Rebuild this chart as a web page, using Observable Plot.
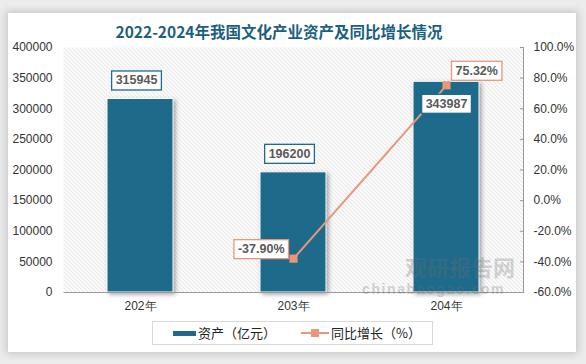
<!DOCTYPE html>
<html><head><meta charset="utf-8">
<script src="https://cdn.jsdelivr.net/npm/d3@7"></script>
<script src="https://cdn.jsdelivr.net/npm/@observablehq/plot@0.6"></script>
<style>
body{margin:0;width:586px;height:364px;background:#ececec;position:relative;overflow:hidden;font-family:"Liberation Sans",Arial,sans-serif}
#card{position:absolute;left:8px;top:13px;width:568px;height:339px;background:#fff;box-shadow:0 0 8px 2px rgba(0,0,0,0.16)}
#title{position:absolute;left:0;top:21px;width:558px;text-align:center;font-weight:bold;font-size:15.5px;font-family:"Noto Sans CJK SC",sans-serif;color:#1d5f80;line-height:20px;white-space:nowrap}
#chart{position:absolute;left:0;top:40px}
#legend{position:absolute;left:152px;top:321px;width:279px;height:22px;border:1px solid #d9d9d9;background:#fff;font-family:"Noto Sans CJK SC",sans-serif;font-size:13px;color:#222}
#legend span{position:absolute;white-space:nowrap}
#wm{position:absolute;left:0;top:0;width:586px;height:364px;pointer-events:none;color:rgba(110,110,110,0.30);font-weight:bold}
#wm span{position:absolute;white-space:nowrap}
</style></head>
<body>
<div id="card"></div>
<div id="title">2022-2024年我国文化产业资产及同比增长情况</div>
<div id="chart"></div>
<div id="legend">
  <span style="left:20px;top:9px;width:23px;height:5px;background:#1d6a8b"></span>
  <span style="left:45px;top:2px;line-height:18px">资产（亿元）</span>
  <span style="left:148px;top:10px;width:28px;height:2px;background:#e9967a"></span>
  <span style="left:158px;top:7px;width:8px;height:8px;background:#e9967a"></span>
  <span style="left:178px;top:2px;line-height:18px">同比增长（%）</span>
</div>
<div id="wm">
  <span style="left:405px;top:255px;font-size:22px;font-family:'Noto Sans CJK SC',sans-serif;line-height:22px">观研报告网</span>
  <span style="left:362px;top:283px;font-size:14px;letter-spacing:1.6px;line-height:12px;font-family:'Liberation Sans',sans-serif">chinabaogao.com</span>
</div>
<script>
const years = ["202年", "203年", "204年"];
const assets = [315945, 196200, 343987];
const growth = [null, -37.90, 75.32];
const leftTicks = [0, 50000, 100000, 150000, 200000, 250000, 300000, 350000, 400000];
const rightTicks = [-60, -40, -20, 0, 20, 40, 60, 80, 100];
const yMax = 400000, pMin = -60, pMax = 100;

const toY = p => (p - pMin) / (pMax - pMin) * yMax;
const fromY = v => v / yMax * (pMax - pMin) + pMin;

const rows = years.map((year, i) => ({year, asset: assets[i], growth: growth[i]}));
const lineRows = rows.filter(d => d.growth != null);

const W = 586, H = 280, mL = 63, mR = 63, mT = 7, mB = 28;
const fw = W - mL - mR, fh = H - mT - mB;
const lineColor = "#e9967a", barColor = "#1d6a8b";

const plot = Plot.plot({
  width: W, height: H,
  marginLeft: mL, marginRight: mR, marginTop: mT, marginBottom: mB,
  style: {fontFamily: '"Liberation Sans", Arial, sans-serif', fontSize: "12px", color: "#333", background: "transparent"},
  x: {domain: years, paddingInner: 0.57, paddingOuter: 0.285},
  y: {domain: [0, yMax]},
  marks: [
    Plot.frame({fill: "url(#hatch)", stroke: "none"}),
    Plot.barY(rows, {x: "year", y: "asset", fill: barColor, stroke: "#fff", strokeWidth: 1, ariaLabel: () => "asset-bar"}),
    Plot.frame({fill: "none", stroke: "#999", strokeDasharray: `0 ${fw} ${fh + fw} ${fh}`}),
    Plot.axisY({ticks: leftTicks, tickSize: 0, tickPadding: 11, tickFormat: d => String(d), label: null}),
    Plot.axisY({anchor: "right", ticks: rightTicks.map(toY), tickSize: 4, dx: -4, fill: "none", stroke: "#999", label: null}),
    Plot.axisY({anchor: "right", ticks: rightTicks.map(toY), tickSize: 0, tickPadding: 10, tickFormat: v => fromY(v).toFixed(1) + "%", label: null}),
    Plot.axisX({tickSize: 0, tickPadding: 9, label: null}),
    Plot.line(lineRows, {x: "year", y: d => toY(d.growth), stroke: lineColor, strokeWidth: 2}),
    Plot.dot(lineRows, {x: "year", y: d => toY(d.growth), symbol: "square", r: 4.6, fill: lineColor, stroke: "none"}),
    Plot.text(rows.filter(d => d.year !== "204年"), {x: "year", y: "asset", text: d => String(d.asset), dx: -4, dy: -18.5, fontWeight: "bold", fontSize: 12.5, fill: "#595959", ariaLabel: () => "asset-label"}),
    Plot.text(rows.filter(d => d.year === "204年"), {x: "year", y: "asset", text: d => String(d.asset), dx: 0, dy: 22, fontWeight: "bold", fontSize: 12.5, fill: "#595959", ariaLabel: () => "asset-label"}),
    Plot.text(lineRows.filter(d => d.growth < 0), {x: "year", y: d => toY(d.growth), text: d => d.growth.toFixed(2) + "%", textAnchor: "end", dx: -9, dy: -9.5, fontWeight: "bold", fontSize: 12.5, fill: "#595959", ariaLabel: () => "growth-label"}),
    Plot.text(lineRows.filter(d => d.growth >= 0), {x: "year", y: d => toY(d.growth), text: d => d.growth.toFixed(2) + "%", textAnchor: "start", dx: 9, dy: -14.5, fontWeight: "bold", fontSize: 12.5, fill: "#595959", ariaLabel: () => "growth-label"})
  ]
});
document.getElementById("chart").appendChild(plot);

const ns = "http://www.w3.org/2000/svg";
const defs = document.createElementNS(ns, "defs");
defs.innerHTML = `<pattern id="hatch" patternUnits="userSpaceOnUse" width="4" height="4">
  <rect width="4" height="4" fill="#fff"/>
  <path d="M-1,-1 L5,5 M-1,3 L1,5 M3,-1 L5,1" stroke="#d2d2d2" stroke-width="0.9"/>
</pattern>`;
plot.insertBefore(defs, plot.firstChild);

plot.querySelectorAll('[aria-label="asset-bar"]').forEach(el => el.style.filter = "drop-shadow(2px 2px 2px rgba(0,0,0,0.35))");

function boxes(label, color) {
  plot.querySelectorAll(`text[aria-label="${label}"]`).forEach(t => {
    const b = t.getBBox();
    const r = document.createElementNS(ns, "rect");
    r.setAttribute("x", b.x - 4);
    r.setAttribute("y", b.y - 2.5);
    r.setAttribute("width", b.width + 8);
    r.setAttribute("height", b.height + 5);
    r.setAttribute("fill", "#fff");
    r.setAttribute("stroke", color);
    r.setAttribute("stroke-width", 1.3);
    if (t.getAttribute("transform")) r.setAttribute("transform", t.getAttribute("transform"));
    t.parentNode.insertBefore(r, t);
  });
}
boxes("asset-label", barColor);
boxes("growth-label", lineColor);
</script>
</body></html>
